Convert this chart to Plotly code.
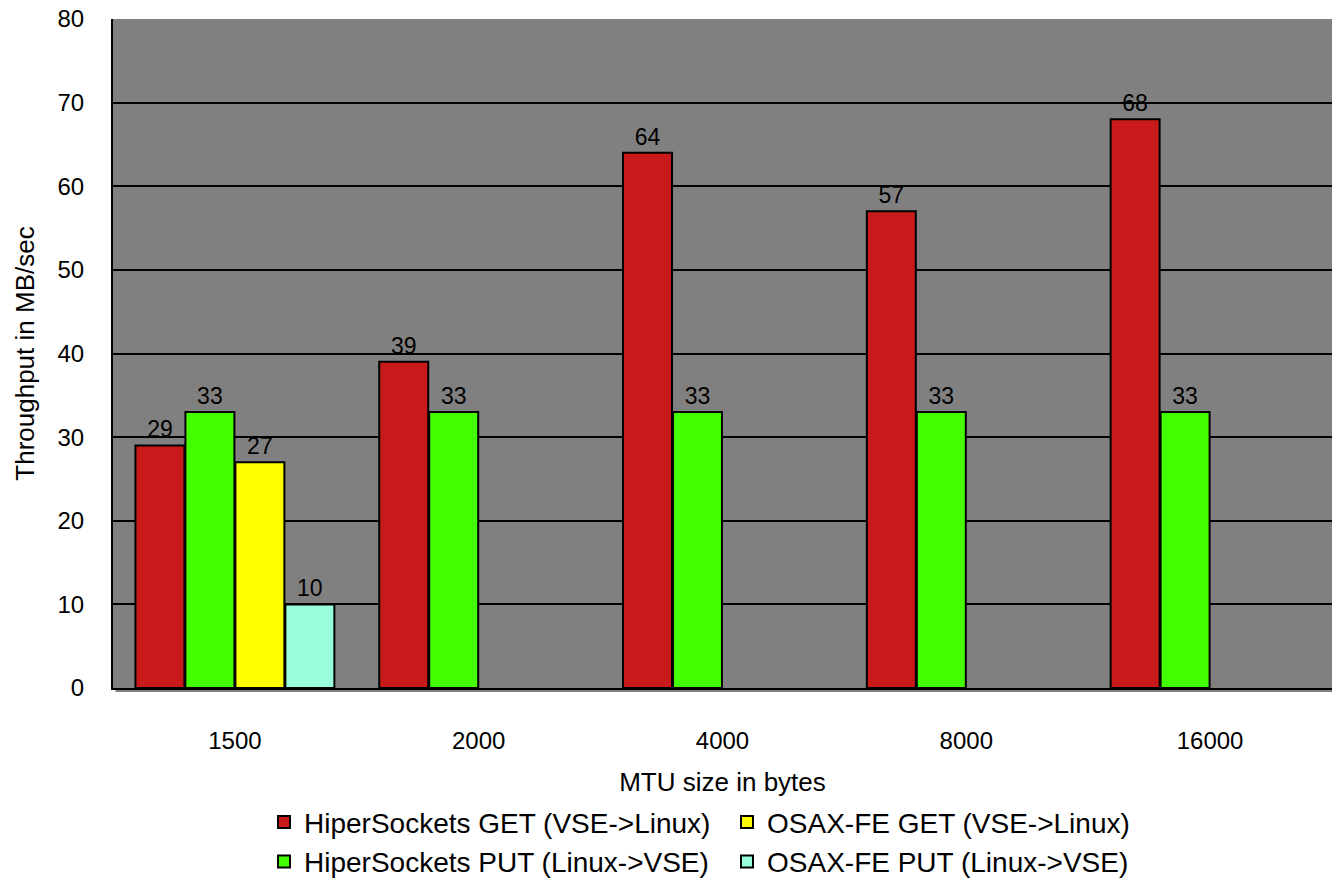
import plotly.graph_objects as go

# MTU sizes tested (x categories)
mtu_sizes = ["1500", "2000", "4000", "8000", "16000"]

# Throughput in MB/sec per test series (None = not measured)
hs_get = [29, 39, 64, 57, 68]
hs_put = [33, 33, 33, 33, 33]
osax_get = [27, None, None, None, None]
osax_put = [10, None, None, None, None]

series_names = [
    "HiperSockets GET (VSE->Linux)",
    "HiperSockets PUT (Linux->VSE)",
    "OSAX-FE GET (VSE->Linux)",
    "OSAX-FE PUT (Linux->VSE)",
]
series_values = [hs_get, hs_put, osax_get, osax_put]
series_colors = ["#C81A1A", "#44FF00", "#FFFF00", "#99FFDD"]
# legend rows: GET entries on the first row, PUT entries on the second
legend_ranks = [1, 3, 2, 4]

FONT = "Liberation Sans, Arial, sans-serif"

fig = go.Figure()
for name, vals, color, rank in zip(series_names, series_values, series_colors, legend_ranks):
    fig.add_trace(go.Bar(
        x=mtu_sizes,
        y=vals,
        name=name,
        legendrank=rank,
        marker=dict(color=color, line=dict(color="black", width=2)),
        text=[("" if v is None else str(v)) for v in vals],
        textposition="outside",
        textfont=dict(family=FONT, size=23, color="black"),
        cliponaxis=False,
    ))

fig.update_layout(
    width=1332,
    height=882,
    barmode="group",
    bargap=0.18,
    bargroupgap=0.02,
    paper_bgcolor="white",
    plot_bgcolor="#808080",
    margin=dict(l=113, r=0, t=19, b=194, autoexpand=False),
    font=dict(family=FONT, color="black"),
    showlegend=True,
    legend=dict(
        orientation="h",
        xref="container",
        yref="container",
        x=264 / 1332,
        xanchor="left",
        y=0.096,
        yanchor="top",
        entrywidth=418,
        font=dict(family=FONT, size=28, color="black"),
        bgcolor="rgba(0,0,0,0)",
        tracegroupgap=0,
    ),
)

fig.update_xaxes(
    type="category",
    automargin=True,
    showgrid=False,
    showline=True,
    linecolor="black",
    linewidth=2,
    ticks="outside",
    ticklen=30,
    tickcolor="rgba(0,0,0,0)",
    tickfont=dict(family=FONT, size=24, color="black"),
    title=dict(text="MTU size in bytes", font=dict(family=FONT, size=26, color="black"), standoff=23),
    zeroline=False,
)

fig.update_yaxes(
    range=[0, 80],
    dtick=10,
    automargin=False,
    showgrid=True,
    gridcolor="black",
    gridwidth=2,
    showline=True,
    linecolor="black",
    linewidth=2,
    ticks="outside",
    ticklen=22,
    tickcolor="rgba(0,0,0,0)",
    tickfont=dict(family=FONT, size=24, color="black"),
    title=dict(text="Throughput in MB/sec", font=dict(family=FONT, size=26, color="black"), standoff=15),
    zeroline=False,
)

# gray shadow strip under the category axis
fig.add_shape(
    type="rect", xref="paper", yref="paper",
    x0=0.002, x1=1, y0=0, y1=0, ysizemode="pixel", yanchor=0,
    line=dict(width=0), fillcolor="#808080", layer="below",
)
fig.update_shapes(y0=-1, y1=-4)

fig.write_html("out.html")
